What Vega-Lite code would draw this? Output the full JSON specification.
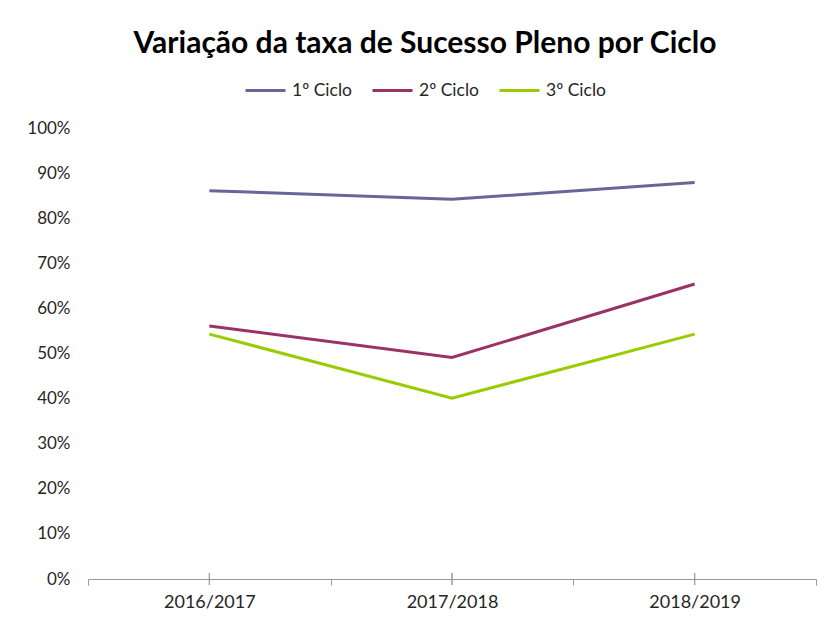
{
  "$schema": "https://vega.github.io/schema/vega-lite/v6.json",
  "width": 728,
  "height": 451,
  "autosize": "none",
  "padding": {"left": 88, "top": 128, "right": 9, "bottom": 40},
  "background": "white",
  "title": {
    "text": "Variação da taxa de Sucesso Pleno por Ciclo",
    "font": "Lato",
    "fontSize": 30,
    "fontWeight": "bold",
    "color": "#000000",
    "anchor": "middle",
    "frame": "group",
    "offset": 10,
    "dx": -27
  },
  "config": {
    "view": {"stroke": null},
    "font": "Lato"
  },
  "data": {
    "values": [
      {"ano": "2016/2017", "ciclo": "1º Ciclo", "taxa": 0.861},
      {"ano": "2017/2018", "ciclo": "1º Ciclo", "taxa": 0.842},
      {"ano": "2018/2019", "ciclo": "1º Ciclo", "taxa": 0.879},
      {"ano": "2016/2017", "ciclo": "2º Ciclo", "taxa": 0.561},
      {"ano": "2017/2018", "ciclo": "2º Ciclo", "taxa": 0.491},
      {"ano": "2018/2019", "ciclo": "2º Ciclo", "taxa": 0.654},
      {"ano": "2016/2017", "ciclo": "3º Ciclo", "taxa": 0.543},
      {"ano": "2017/2018", "ciclo": "3º Ciclo", "taxa": 0.401},
      {"ano": "2018/2019", "ciclo": "3º Ciclo", "taxa": 0.543}
    ]
  },
  "layer": [
    {
      "mark": {"type": "line", "strokeWidth": 3},
      "encoding": {
        "x": {
          "field": "ano",
          "type": "nominal",
          "sort": null,
          "scale": {"type": "band", "paddingInner": 0, "paddingOuter": 0},
          "axis": {
            "title": null,
            "labelAngle": 0,
            "tickBand": "extent",
            "tickSize": 6,
            "tickColor": "#999999",
            "domainColor": "#999999",
            "labelFont": "Lato",
            "labelFontSize": 18,
            "labelColor": "#262626",
            "labelPadding": 8,
            "grid": false
          }
        },
        "y": {
          "field": "taxa",
          "type": "quantitative",
          "scale": {"domain": [0, 1]},
          "axis": {
            "title": null,
            "format": ".0%",
            "values": [0, 0.1, 0.2, 0.3, 0.4, 0.5, 0.6, 0.7, 0.8, 0.9, 1],
            "domain": false,
            "ticks": false,
            "grid": false,
            "labelFont": "Lato",
            "labelFontSize": 17,
            "labelColor": "#262626",
            "labelPadding": 18
          }
        },
        "color": {
          "field": "ciclo",
          "type": "nominal",
          "scale": {
            "domain": ["1º Ciclo", "2º Ciclo", "3º Ciclo"],
            "range": ["#666699", "#993366", "#99CC00"]
          },
          "legend": {
            "orient": "none",
            "legendX": 156,
            "legendY": -59,
            "direction": "horizontal",
            "title": null,
            "symbolType": "stroke",
            "symbolSize": 1600,
            "symbolStrokeWidth": 3,
            "labelFont": "Lato",
            "labelFontSize": 17.5,
            "labelColor": "#262626",
            "labelOffset": 5,
            "columnPadding": 14,
            "padding": 0
          }
        }
      }
    },
    {
      "mark": {"type": "tick", "orient": "vertical", "size": 12, "thickness": 1, "color": "#999999"},
      "encoding": {
        "x": {"field": "ano", "type": "nominal", "sort": null},
        "y": {"datum": 0}
      }
    }
  ]
}
